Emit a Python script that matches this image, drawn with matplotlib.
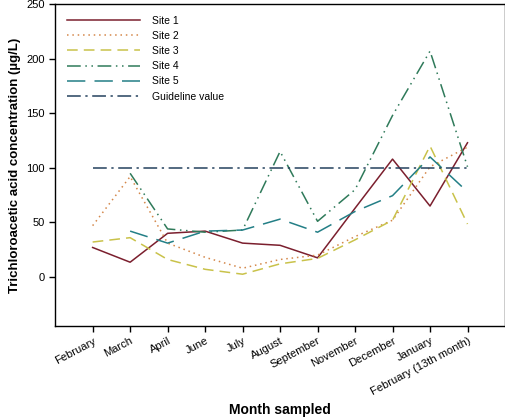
import numpy as np
import matplotlib.pyplot as plt

plt.rcParams["font.family"] = ["Liberation Sans", "DejaVu Sans"]

months = ["February", "March", "April", "June", "July", "August", "September",
          "November", "December", "January", "February (13th month)"]
site1 = [27, 13.5, 40, 42, 31, 29, 17.5, 63, 108, 65, 123]
site2 = [47, 92, 31, 18, 8, 16, 20, 37, 52, 101, 119]
site3 = [32, 36, 16, 7, 2.5, 12, 17, 34, 52, 120, 48.5]
site4 = [np.nan, 95, 44, 41, 43, 115, 51, 80, 148, 207, 101]
site5 = [np.nan, 42, 31, 42, 43, 53, 41, 60, 74.5, 110, 78]
guideline = [100] * len(months)

x = np.arange(len(months))

fig = plt.figure(figsize=(5.06, 4.18), dpi=100)
ax = fig.add_axes([0.109, 0.22, 0.889, 0.77])

ax.plot(x, site1, color="#7b1f2e", lw=1.1, ls="-", label="Site 1")
ax.plot(x, site2, color="#d4874a", lw=1.1, ls=(0, (1, 2.5)), label="Site 2")
ax.plot(x, site3, color="#c9c24a", lw=1.1, ls=(0, (7, 4)), label="Site 3")
ax.plot(x, site4, color="#2f7a5a", lw=1.1, ls=(0, (9, 3, 1, 3, 1, 3)), label="Site 4")
ax.plot(x, site5, color="#237f86", lw=1.1, ls=(0, (12, 6)), label="Site 5")
ax.plot(x, guideline, color="#24415e", lw=1.1, ls=(0, (9, 3, 1.5, 3)), label="Guideline value")

ax.set_xlim(-1, 11)
ax.set_ylim(-45, 250)
ax.set_yticks([0, 50, 100, 150, 200, 250])
ax.set_xticks(x)
ax.set_xticklabels(months, rotation=28, ha="right", rotation_mode="anchor")
ax.tick_params(labelsize=8, direction="out", length=4, width=1)
ax.tick_params(axis="x", pad=3)
for s in ax.spines.values():
    s.set_linewidth(1)

ax.set_ylabel("Trichloroacetic acid concentration (\u00b5g/L)", fontsize=9.5, fontweight="bold")
ax.set_xlabel("Month sampled", fontsize=10, fontweight="bold", labelpad=4)

ax.legend(loc="upper left", frameon=False, fontsize=7.5, handlelength=7,
          handletextpad=1.2, labelspacing=0.5, borderaxespad=0.7)

fig.savefig("out.png", dpi=100)
